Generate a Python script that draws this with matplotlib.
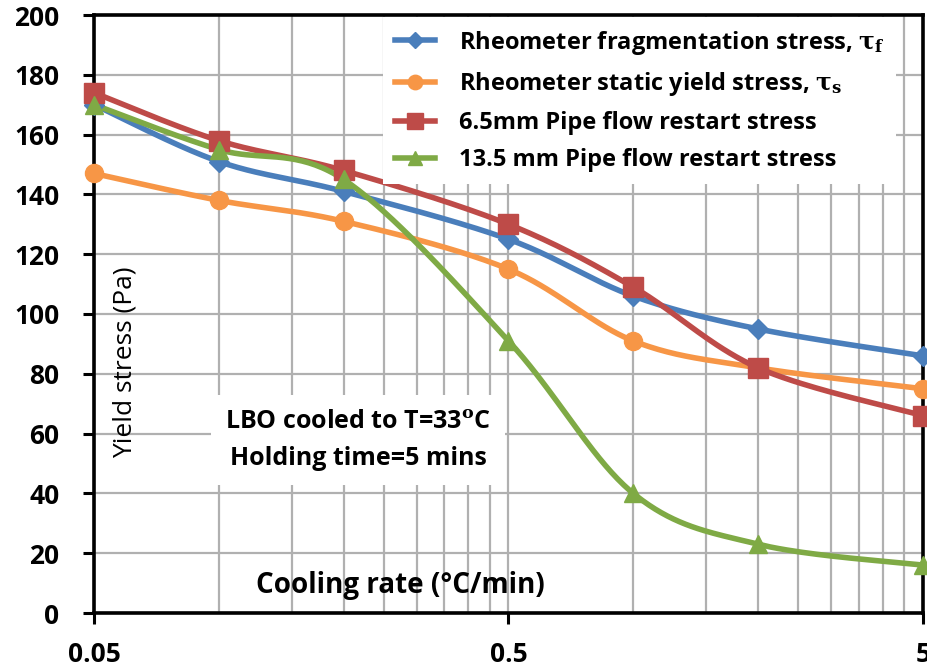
import numpy as np
import matplotlib
matplotlib.use("Agg")
import matplotlib.pyplot as plt
from matplotlib.lines import Line2D
from matplotlib.ticker import FixedLocator, NullFormatter

# ---- data ----
cooling_rate = [0.05, 0.1, 0.2, 0.5, 1, 2, 5]
frag_stress = [170, 151, 141, 125, 106, 95, 86]
static_stress = [147, 138, 131, 115, 91, 82, 75]
pipe65_stress = [174, 158, 148, 130, 109, 82, 66]
pipe135_stress = [170, 155, 145, 91, 40, 23, 16]

series_labels = [
    r"Rheometer fragmentation stress, $\mathbf{\tau_f}$",
    r"Rheometer static yield stress, $\mathbf{\tau_s}$",
    "6.5mm Pipe flow restart stress",
    "13.5 mm Pipe flow restart stress",
]
x_tick_values = [0.05, 0.5, 5]
x_tick_labels = ["0.05", "0.5", "5"]
y_ticks = [0, 20, 40, 60, 80, 100, 120, 140, 160, 180, 200]

plt.rcParams["font.family"] = ["Open Sans", "DejaVu Sans"]
plt.rcParams["mathtext.fontset"] = "dejavuserif"

fig = plt.figure(figsize=(9.27, 6.68), dpi=100)
ax = fig.add_axes([94 / 927, 1 - 613 / 668, (923 - 94) / 927, (613 - 15) / 668])
ax.set_xscale("log")
ax.set_xlim(0.05, 5)
ax.set_ylim(0, 200)

# grid
minor = [0.05 * k for k in range(2, 10)] + [0.5 * k for k in range(2, 10)]
ax.xaxis.set_major_locator(FixedLocator(x_tick_values))
ax.set_xticklabels(x_tick_labels)
ax.xaxis.set_minor_locator(FixedLocator(minor))
ax.xaxis.set_minor_formatter(NullFormatter())
ax.set_yticks(y_ticks)
gridkw = dict(color="#b0b0b0", linewidth=1.6)
ax.grid(True, which="major", axis="both", **gridkw)
ax.grid(True, which="minor", axis="x", **gridkw)
ax.set_axisbelow(True)
ax.tick_params(axis="x", which="minor", length=0)
ax.tick_params(axis="both", which="major", direction="out", length=8, width=2.2,
               labelsize=19)
ax.tick_params(axis="y", pad=17)
ax.tick_params(axis="x", pad=12)
for lab in ax.get_xticklabels() + ax.get_yticklabels():
    lab.set_fontweight("bold")
for sp in ax.spines.values():
    sp.set_linewidth(2.6)
    sp.set_color("black")


def smooth_curve(xs, ys, n=40):
    """Catmull-Rom style Bezier smoothing in display space (like Excel)."""
    pts = ax.transData.transform(np.column_stack([xs, ys]))
    m = len(pts)
    out = []
    for i in range(m - 1):
        p0 = pts[i - 1] if i > 0 else pts[i]
        p1 = pts[i]
        p2 = pts[i + 1]
        p3 = pts[i + 2] if i + 2 < m else pts[i + 1]
        c1 = p1 + (p2 - p0) / 6.0
        c2 = p2 - (p3 - p1) / 6.0
        t = np.linspace(0, 1, n)[:, None]
        seg = ((1 - t) ** 3) * p1 + 3 * ((1 - t) ** 2) * t * c1 + 3 * (1 - t) * t ** 2 * c2 + t ** 3 * p2
        out.append(seg if i == 0 else seg[1:])
    out = np.vstack(out)
    data = ax.transData.inverted().transform(out)
    return data[:, 0], data[:, 1]


styles = [
    (frag_stress, "#4A7EBB", "D", 10),
    (static_stress, "#F79646", "o", 13),
    (pipe65_stress, "#BE4B48", "s", 14),
    (pipe135_stress, "#7FAA45", "^", 13),
]
handles = []
for (vals, col, mk, ms), lab in zip(styles, series_labels):
    sx, sy = smooth_curve(cooling_rate, vals)
    ax.plot(sx, sy, color=col, lw=4.0, solid_capstyle="round", zorder=3)
    ax.plot(cooling_rate, vals, ls="none", marker=mk, ms=ms, color=col,
            markeredgecolor=col, zorder=4, clip_on=False)
    handles.append(Line2D([], [], color=col, lw=4.0, marker=mk, ms=ms * 0.8,
                          markeredgecolor=col))

leg = ax.legend(handles, series_labels, loc="upper left",
                bbox_to_anchor=((383 - 94) / 829, 0.997),
                frameon=True, fancybox=False, framealpha=1, edgecolor="none",
                facecolor="white", borderaxespad=0, borderpad=0.5,
                handlelength=1.7, handletextpad=1.0, labelspacing=0.56,
                prop=dict(size=17, weight="bold"))

# annotations
fig.text(358 / 927, 1 - 440 / 668,
         "LBO cooled to T=33$^{\\mathbf{o}}$C\nHolding time=5 mins",
         ha="center", va="center", fontsize=18, fontweight="bold", linespacing=1.65,
         bbox=dict(facecolor="white", edgecolor="none", pad=10), zorder=2.5)
fig.text(400 / 927, 1 - 585 / 668, "Cooling rate (°C/min)", ha="center", va="center",
         fontsize=20, fontweight="bold")
fig.text(125 / 927, 1 - 362 / 668, "Yield stress (Pa)", ha="center", va="center",
         rotation=90, fontsize=19)

fig.savefig("out.png", dpi=100)
